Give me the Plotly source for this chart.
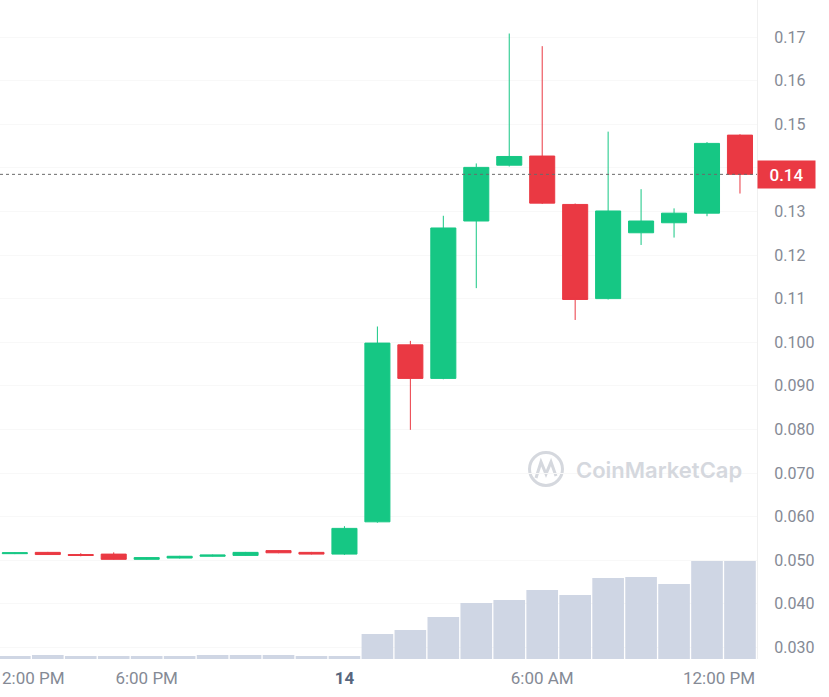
import plotly.graph_objects as go

# ---- data ----
times = [
    "2024-01-13 14:00", "2024-01-13 15:00", "2024-01-13 16:00", "2024-01-13 17:00",
    "2024-01-13 18:00", "2024-01-13 19:00", "2024-01-13 20:00", "2024-01-13 21:00",
    "2024-01-13 22:00", "2024-01-13 23:00", "2024-01-14 00:00", "2024-01-14 01:00",
    "2024-01-14 02:00", "2024-01-14 03:00", "2024-01-14 04:00", "2024-01-14 05:00",
    "2024-01-14 06:00", "2024-01-14 07:00", "2024-01-14 08:00", "2024-01-14 09:00",
    "2024-01-14 10:00", "2024-01-14 11:00", "2024-01-14 12:00",
]
open_ = [0.0515, 0.0518, 0.0513, 0.0514, 0.0502, 0.0505, 0.0509, 0.0511, 0.0522, 0.0518,
         0.0514, 0.0588, 0.0994, 0.0917, 0.1278, 0.1406, 0.1427, 0.1316, 0.1100, 0.1251,
         0.1274, 0.1296, 0.1475]
high = [0.0518, 0.0519, 0.0516, 0.0518, 0.0507, 0.0510, 0.0513, 0.0519, 0.0523, 0.0519,
        0.0578, 0.1036, 0.1003, 0.1290, 0.1410, 0.1708, 0.1679, 0.1318, 0.1483, 0.1351,
        0.1307, 0.1459, 0.1477]
low = [0.0514, 0.0512, 0.0509, 0.0501, 0.0501, 0.0504, 0.0508, 0.0510, 0.0516, 0.0513,
       0.0512, 0.0586, 0.0799, 0.0915, 0.1124, 0.1403, 0.1317, 0.1051, 0.1098, 0.1223,
       0.1240, 0.1289, 0.1341]
close = [0.0517, 0.0513, 0.0511, 0.0502, 0.0506, 0.0509, 0.0512, 0.0518, 0.0517, 0.0514,
         0.0573, 0.0998, 0.0917, 0.1262, 0.1401, 0.1426, 0.1319, 0.1098, 0.1301, 0.1278,
         0.1296, 0.1456, 0.1385]
volume = [3, 4, 3, 3, 3, 3, 4, 4, 4, 3,
          3, 25, 29, 42, 56, 59, 69, 64, 81, 82,
          75, 98, 98]

price_ticks = [0.17, 0.16, 0.15, 0.14, 0.13, 0.12, 0.11, 0.100, 0.090, 0.080, 0.070, 0.060, 0.050, 0.040, 0.030]
price_tick_text = ["0.17", "0.16", "0.15", "", "0.13", "0.12", "0.11", "0.100", "0.090",
                   "0.080", "0.070", "0.060", "0.050", "0.040", "0.030"]
time_ticks = ["2024-01-13 18:00", "2024-01-14 00:00", "2024-01-14 06:00"]
time_tick_text = ["6:00 PM", "<b><span style='color:#58667e'>14</span></b>", "6:00 AM"]
current_price = close[-1]
current_price_label = "0.14"

GREEN = "#16c784"
RED = "#ea3943"
VOL = "#cfd6e4"
TXT = "#858a95"
FONT = "Roboto"

fig = go.Figure()

fig.add_trace(go.Bar(
    x=times, y=volume, yaxis="y2", marker=dict(color=VOL, line=dict(width=0)),
    hoverinfo="skip", showlegend=False,
))

fig.add_trace(go.Candlestick(
    x=times, open=open_, high=high, low=low, close=close,
    increasing=dict(line=dict(color=GREEN, width=1), fillcolor=GREEN),
    decreasing=dict(line=dict(color=RED, width=1), fillcolor=RED),
    showlegend=False, hoverinfo="skip",
))

fig.update_layout(
    width=829, height=697,
    margin=dict(l=0, r=72, t=0, b=38),
    paper_bgcolor="white", plot_bgcolor="white",
    font=dict(family=FONT, size=16, color=TXT),
    bargap=0.04,
    boxgap=0.24,
    boxgroupgap=0,
    xaxis=dict(
        type="date",
        range=["2024-01-13 13:33", "2024-01-14 12:31"],
        rangeslider=dict(visible=False),
        tickvals=time_ticks, ticktext=time_tick_text,
        showgrid=False, zeroline=False, showline=False,
        ticks="", ticklabelstandoff=7,
        tickfont=dict(size=17, color=TXT, family=FONT),
    ),
    yaxis=dict(
        side="right",
        range=[0.02734, 0.17849],
        tickvals=price_ticks, ticktext=price_tick_text,
        showgrid=True, gridcolor="#f8f8f8", gridwidth=1,
        zeroline=False,
        showline=True, linecolor="#f0f0f0", linewidth=1,
        ticks="outside", ticklen=0, tickcolor="white",
        ticklabelstandoff=13,
        tickfont=dict(size=16, color=TXT, family=FONT),
    ),
    yaxis2=dict(
        overlaying="y", side="left",
        range=[0, max(volume) * 659 / 98],
        visible=False, showgrid=False,
    ),
)

# current price dotted line
fig.add_shape(type="line", xref="paper", yref="y", x0=0, x1=1,
              y0=current_price, y1=current_price,
              line=dict(color="#6b6b6b", width=1, dash="dot"), layer="above")

# current price tag
fig.add_annotation(
    xref="paper", yref="y", x=1.0, y=current_price, xanchor="left", yanchor="middle",
    text=current_price_label, showarrow=False,
    font=dict(color="white", size=17, family=FONT, weight=500),
    bgcolor=RED, width=53, height=23, borderpad=2, align="center",
)

# edge time labels
fig.add_annotation(xref="paper", yref="paper", x=0, y=0, yshift=-19,
                   xanchor="left", yanchor="middle", text="2:00 PM", showarrow=False,
                   font=dict(size=17, color=TXT, family=FONT))
fig.add_annotation(xref="paper", yref="paper", x=1, y=0, yshift=-19,
                   xanchor="right", yanchor="middle", text="12:00 PM", showarrow=False,
                   font=dict(size=17, color=TXT, family=FONT))

# watermark
W = 757.0
H = 659.0
cx, cy, r = 546.0, 469.0, 16.5
fig.add_shape(type="circle", xref="paper", yref="paper",
              x0=(cx - r) / W, x1=(cx + r) / W, y0=1 - (cy + r) / H, y1=1 - (cy - r) / H,
              line=dict(color="#d5d8de", width=3), layer="below")
pts = [(536, 478), (541, 462), (546, 474), (551, 462), (556, 476)]
path = "M " + " L ".join(f"{x / W:.5f},{1 - y / H:.5f}" for x, y in pts)
fig.add_shape(type="path", xref="paper", yref="paper", path=path,
              line=dict(color="#d5d8de", width=3), layer="below")
fig.add_annotation(xref="paper", yref="paper", x=574 / W, y=1 - 470 / H,
                   xanchor="left", yanchor="middle", text="CoinMarketCap", showarrow=False,
                   font=dict(size=22, color="#d5d8de", family="Inter", weight=600))

fig.write_html("out.html", config={"displayModeBar": False},
               post_script="document.body.style.margin='0px';")
